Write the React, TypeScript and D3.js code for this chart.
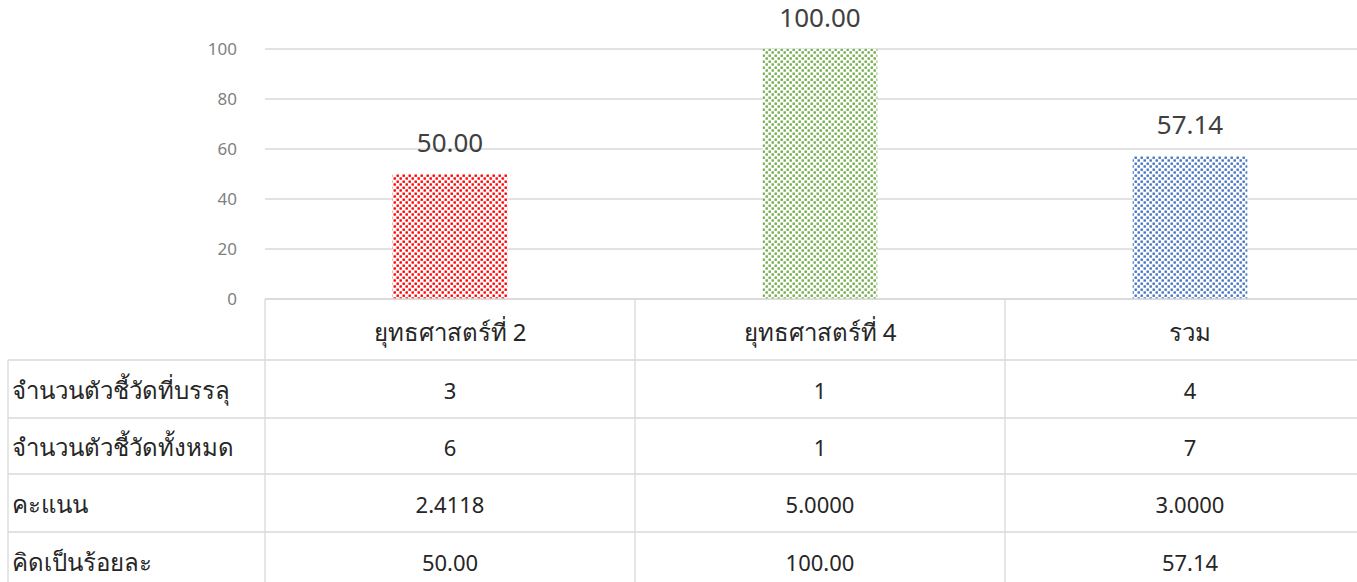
import React, { useEffect, useRef } from 'react';
import * as d3 from 'd3';

// categories and values
const categories = ['ยุทธศาสตร์ที่ 2', 'ยุทธศาสตร์ที่ 4', 'รวม'];
const percentValues = [50.0, 100.0, 57.14];
const barColors = ['#ff0000', '#70ad47', '#4472c4'];
const yTicks = [0, 20, 40, 60, 80, 100];

// table rows
const rowLabels = ['จำนวนตัวชี้วัดที่บรรลุ', 'จำนวนตัวชี้วัดทั้งหมด', 'คะแนน', 'คิดเป็นร้อยละ'];
const achieved = ['3', '1', '4'];
const total = ['6', '1', '7'];
const score = ['2.4118', '5.0000', '3.0000'];
const percentText = ['50.00', '100.00', '57.14'];

const W = 1357;
const H = 582;
const FONT = "Tahoma, 'Noto Sans', 'DejaVu Sans', sans-serif";

const App = () => {
  const svgRef = useRef<SVGSVGElement>(null);

  useEffect(() => {
    const svg = d3.select(svgRef.current);
    svg.selectAll('*').remove();

    const x = d3.scaleBand<string>().domain(categories).range([265, 1375]).paddingInner(0).paddingOuter(0);
    const y = d3.scaleLinear().domain([0, 100]).range([299, 49]);

    // dotted patterns
    const defs = svg.append('defs');
    barColors.forEach((c, i) => {
      const p = defs
        .append('pattern')
        .attr('id', `dots${i}`)
        .attr('patternUnits', 'userSpaceOnUse')
        .attr('width', 6)
        .attr('height', 6);
      p.append('rect').attr('width', 6).attr('height', 6).attr('fill', '#fff');
      p.append('rect').attr('x', 0.5).attr('y', 0.5).attr('width', 2.4).attr('height', 2.4).attr('fill', c);
      p.append('rect').attr('x', 3.5).attr('y', 3.3).attr('width', 2.4).attr('height', 2.4).attr('fill', c);
    });

    // gridlines
    svg
      .append('g')
      .selectAll('line')
      .data(yTicks)
      .join('line')
      .attr('x1', 265)
      .attr('x2', W)
      .attr('y1', d => y(d))
      .attr('y2', d => y(d))
      .attr('stroke', '#d9d9d9')
      .attr('stroke-width', 1.3);

    // y axis labels
    svg
      .append('g')
      .selectAll('text')
      .data(yTicks)
      .join('text')
      .attr('x', 237)
      .attr('y', d => y(d))
      .attr('dy', '0.35em')
      .attr('text-anchor', 'end')
      .attr('font-family', FONT)
      .attr('font-size', 17)
      .attr('fill', '#7f7f7f')
      .text(d => d);

    // bars
    const bw = x.bandwidth() * 0.31;
    svg
      .append('g')
      .selectAll('rect')
      .data(percentValues)
      .join('rect')
      .attr('x', (d, i) => x(categories[i])! + x.bandwidth() / 2 - bw / 2)
      .attr('y', d => y(d))
      .attr('width', bw)
      .attr('height', d => y(0) - y(d))
      .attr('fill', (d, i) => `url(#dots${i})`);

    // data labels
    svg
      .append('g')
      .selectAll('text')
      .data(percentValues)
      .join('text')
      .attr('x', (d, i) => x(categories[i])! + x.bandwidth() / 2)
      .attr('y', d => y(d) - 22)
      .attr('text-anchor', 'middle')
      .attr('font-family', FONT)
      .attr('font-size', 26)
      .attr('fill', '#404040')
      .text(d => d.toFixed(2));

    // table
    const rowTops = [299, 360, 418, 474, 532];
    const rowBottom = 600;
    const tableRows = [achieved, total, score, percentText];
    const grid = svg.append('g').attr('stroke', '#d9d9d9').attr('stroke-width', 1.3);

    rowTops.forEach((t, i) => {
      grid
        .append('line')
        .attr('x1', i === 0 ? 265 : 8)
        .attr('x2', W)
        .attr('y1', t)
        .attr('y2', t);
    });
    categories.forEach(c => {
      grid
        .append('line')
        .attr('x1', x(c)!)
        .attr('x2', x(c)!)
        .attr('y1', 299)
        .attr('y2', rowBottom);
    });
    grid.append('line').attr('x1', 8).attr('x2', 8).attr('y1', 360).attr('y2', rowBottom);

    const txt = svg.append('g').attr('font-family', FONT).attr('fill', '#262626');

    // header
    categories.forEach(c => {
      txt
        .append('text')
        .attr('x', x(c)! + x.bandwidth() / 2)
        .attr('y', (rowTops[0] + rowTops[1]) / 2 + 3)
        .attr('dy', '0.35em')
        .attr('text-anchor', 'middle')
        .attr('font-size', 24)
        .text(c);
    });

    // body rows
    rowLabels.forEach((lab, r) => {
      const top = rowTops[r + 1];
      const bottom = r + 2 < rowTops.length ? rowTops[r + 2] : top + 58;
      const cy = (top + bottom) / 2 + 2;
      txt
        .append('text')
        .attr('x', 12)
        .attr('y', cy)
        .attr('dy', '0.35em')
        .attr('font-size', 24)
        .text(lab);
      tableRows[r].forEach((v, i) => {
        txt
          .append('text')
          .attr('x', x(categories[i])! + x.bandwidth() / 2)
          .attr('y', cy)
          .attr('dy', '0.35em')
          .attr('text-anchor', 'middle')
          .attr('font-size', 22)
          .text(v);
      });
    });
  }, []);

  return (
    <svg
      ref={svgRef}
      width={W}
      height={H}
      style={{ position: 'absolute', left: 0, top: 0, background: '#fff' }}
    />
  );
};

export default App;
